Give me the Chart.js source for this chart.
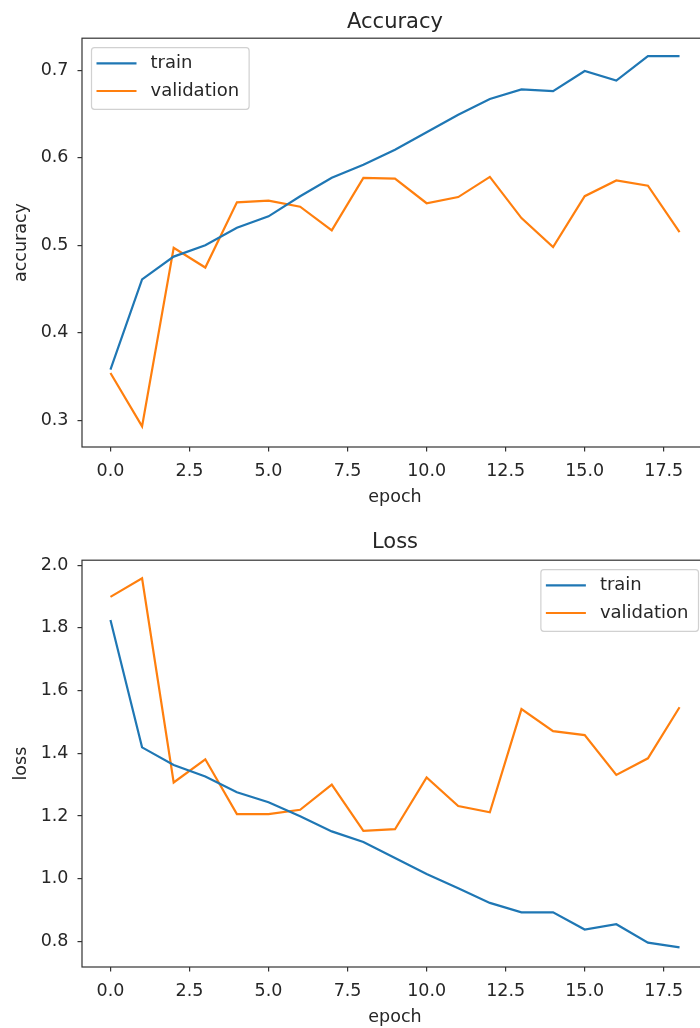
<!DOCTYPE html>
<html>
<head>
<meta charset="utf-8">
<script src="https://cdn.jsdelivr.net/npm/chart.js@4/dist/chart.umd.min.js"></script>
<style>
    html, body { margin: 0; padding: 0; background: #fff; overflow: hidden; }
    #wrap { position: relative; width: 700px; height: 1028px; overflow: hidden; }
    .box { position: absolute; left: 0; width: 720px; height: 514px; }
</style>
</head>
<body>
<div id="wrap">
    <div class="box" style="top:0"><canvas id="accChart"></canvas></div>
    <div class="box" style="top:514px"><canvas id="lossChart"></canvas></div>
</div>
<script>
// --- Data ---
const epochs = [0, 1, 2, 3, 4, 5, 6, 7, 8, 9, 10, 11, 12, 13, 14, 15, 16, 17, 18];
const trainAcc = [0.358, 0.461, 0.487, 0.500, 0.520, 0.533, 0.556, 0.577, 0.592, 0.609, 0.629, 0.649, 0.667, 0.678, 0.676, 0.699, 0.688, 0.716, 0.716];
const valAcc = [0.354, 0.293, 0.497, 0.4745, 0.549, 0.551, 0.544, 0.517, 0.577, 0.576, 0.548, 0.555, 0.578, 0.531, 0.498, 0.556, 0.574, 0.568, 0.515];
const trainLoss = [1.825, 1.419, 1.363, 1.326, 1.276, 1.244, 1.199, 1.151, 1.117, 1.066, 1.015, 0.970, 0.923, 0.893, 0.893, 0.838, 0.855, 0.796, 0.781];
const valLoss = [1.899, 1.958, 1.307, 1.381, 1.206, 1.206, 1.220, 1.300, 1.153, 1.158, 1.323, 1.232, 1.212, 1.541, 1.471, 1.458, 1.331, 1.384, 1.547];

const xTicks = [0, 2.5, 5, 7.5, 10, 12.5, 15, 17.5];
const accTicks = [0.3, 0.4, 0.5, 0.6, 0.7];
const lossTicks = [0.8, 1.0, 1.2, 1.4, 1.6, 1.8, 2.0];

const seriesLabels = ['train', 'validation'];
const BLUE = '#1f77b4';
const ORANGE = '#ff7f0e';
const FONT = 'DejaVu Sans';
const INK = '#262626';

Chart.defaults.font.family = FONT;
Chart.defaults.color = INK;

// box around the plot area (matplotlib spines)
const framePlugin = {
    id: 'frame',
    afterDatasetsDraw(chart) {
        const { ctx, chartArea: a } = chart;
        ctx.save();
        ctx.strokeStyle = '#333';
        ctx.lineWidth = 1.2;
        ctx.strokeRect(a.left, a.top, a.right - a.left, a.bottom - a.top);
        ctx.restore();
    }
};

// legend drawn inside the plot area, like plt.legend()
function boxLegend(corner) {
    return {
        id: 'boxLegend',
        afterDraw(chart) {
            const { ctx, chartArea: a } = chart;
            const sets = chart.data.datasets;
            ctx.save();
            ctx.font = '18px "' + FONT + '"';
            const textW = Math.max(...sets.map(s => ctx.measureText(s.label).width));
            const w = 5 + 40 + 14 + textW + 10;
            const rowH = 27.7;
            const h = 15.6 + rowH * (sets.length - 1) + 18.3;
            const x = corner === 'right' ? a.right - 9.5 - w : a.left + 9.5;
            const y = a.top + 9.5;

            ctx.beginPath();
            ctx.roundRect(x, y, w, h, 3);
            ctx.fillStyle = 'rgba(255,255,255,0.8)';
            ctx.fill();
            ctx.strokeStyle = 'rgba(204,204,204,0.9)';
            ctx.lineWidth = 1.2;
            ctx.stroke();

            sets.forEach((s, i) => {
                const cy = y + 15.6 + i * rowH;
                ctx.beginPath();
                ctx.moveTo(x + 5, cy);
                ctx.lineTo(x + 45, cy);
                ctx.strokeStyle = s.borderColor;
                ctx.lineWidth = 2.2;
                ctx.stroke();
                ctx.fillStyle = INK;
                ctx.textBaseline = 'middle';
                ctx.textAlign = 'left';
                ctx.fillText(s.label, x + 59, cy + 0.5);
            });
            ctx.restore();
        }
    };
}

function makeChart(id, cfg) {
    const ctx = document.getElementById(id).getContext('2d');
    return new Chart(ctx, {
        type: 'line',
        data: {
            datasets: [
                {
                    label: seriesLabels[0],
                    data: epochs.map((e, i) => ({ x: e, y: cfg.train[i] })),
                    borderColor: BLUE,
                    borderWidth: 2.2,
                    pointRadius: 0,
                    tension: 0
                },
                {
                    label: seriesLabels[1],
                    data: epochs.map((e, i) => ({ x: e, y: cfg.val[i] })),
                    borderColor: ORANGE,
                    borderWidth: 2.2,
                    pointRadius: 0,
                    tension: 0
                }
            ]
        },
        options: {
            responsive: true,
            maintainAspectRatio: false,
            animation: false,
            layout: { padding: { left: 0, right: 12, top: 0, bottom: 0 } },
            plugins: {
                legend: { display: false },
                tooltip: { enabled: false },
                title: {
                    display: true,
                    text: cfg.title,
                    fullSize: false,
                    color: INK,
                    font: { size: 21, weight: 'normal', lineHeight: 1.2 },
                    padding: cfg.titlePad
                }
            },
            scales: {
                x: {
                    type: 'linear',
                    min: -0.9,
                    max: 18.9,
                    afterBuildTicks: axis => { axis.ticks = xTicks.map(v => ({ value: v })); },
                    afterFit: axis => { axis.height = cfg.xHeight; },
                    ticks: {
                        callback: v => v.toFixed(1),
                        font: { size: 17.5 },
                        color: INK,
                        padding: 9,
                        maxRotation: 0
                    },
                    grid: { drawOnChartArea: false, drawTicks: true, tickLength: 4.5, color: '#333', lineWidth: 1.2 },
                    border: { display: false },
                    title: {
                        display: true,
                        text: 'epoch',
                        font: { size: 17.5, lineHeight: 1.2 },
                        color: INK,
                        padding: { top: 0, bottom: cfg.xTitlePad }
                    }
                },
                y: {
                    type: 'linear',
                    min: cfg.yMin,
                    max: cfg.yMax,
                    afterBuildTicks: axis => { axis.ticks = cfg.yTicks.map(v => ({ value: v })); },
                    afterFit: axis => { axis.width = 82; },
                    ticks: {
                        callback: v => v.toFixed(1),
                        font: { size: 17.5 },
                        color: INK,
                        padding: 9
                    },
                    grid: { drawOnChartArea: false, drawTicks: true, tickLength: 4.5, color: '#333', lineWidth: 1.2 },
                    border: { display: false },
                    title: {
                        display: true,
                        text: cfg.yLabel,
                        font: { size: 17.5, lineHeight: 1.2 },
                        color: INK,
                        padding: { top: 11, bottom: 0 }
                    }
                }
            }
        },
        plugins: [framePlugin, boxLegend(cfg.legendCorner)]
    });
}

// --- Render Charts ---

// 1. Accuracy
makeChart('accChart', {
    title: 'Accuracy',
    yLabel: 'accuracy',
    train: trainAcc,
    val: valAcc,
    yTicks: accTicks,
    yMin: 0.2695,
    yMax: 0.7365,
    titlePad: { top: 10, bottom: 3 },
    xHeight: 67,
    xTitlePad: 6,
    legendCorner: 'left'
});

// 2. Loss
makeChart('lossChart', {
    title: 'Loss',
    yLabel: 'loss',
    train: trainLoss,
    val: valLoss,
    yTicks: lossTicks,
    yMin: 0.7185,
    yMax: 2.016,
    titlePad: { top: 16, bottom: 5 },
    xHeight: 61,
    xTitlePad: 0,
    legendCorner: 'right'
});
</script>
</body>
</html>
